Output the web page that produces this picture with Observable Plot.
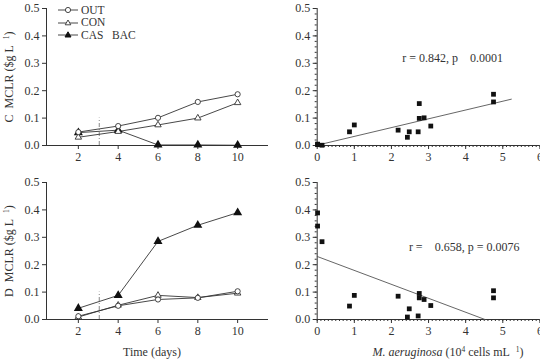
<!DOCTYPE html>
<html>
<head>
<meta charset="utf-8">
<script src="https://cdn.jsdelivr.net/npm/d3@7"></script>
<script src="https://cdn.jsdelivr.net/npm/@observablehq/plot@0.6"></script>
<style>
  body { margin: 0; background: #fff; }
  #fig { position: relative; width: 540px; height: 360px; overflow: hidden; font-family: "Liberation Serif", serif; font-weight: normal; color: #333; }
  .panel { position: absolute; }
  .panel svg { overflow: visible; }
  .ylab { position: absolute; white-space: nowrap; font-size: 12px; font-weight: normal; transform: translate(-50%, -50%) rotate(-90deg); }
  .titles { position: absolute; left: 0; top: 336px; }
  .legend { position: absolute; left: 57px; top: 4px; font-size: 11.5px; line-height: 12.4px; }
  .legend div { display: flex; align-items: center; height: 12.4px; line-height: 12.4px; }
  .legend svg { margin-right: 2px; }
  sup { font-size: 7.5px; vertical-align: 4px; line-height: 0; }
</style>
</head>
<body>
<div id="fig"></div>
<script>
// Sampling days and MCLR concentrations (µg/L) per treatment
const days = [2, 4, 6, 8, 10];
const seriesNames = ["OUT", "CON", "CAS   BAC"];
const cOut    = [0.049, 0.071, 0.101, 0.159, 0.187];
const cCon    = [0.030, 0.051, 0.075, 0.100, 0.156];
const cCasBac = [0.047, 0.056, 0.002, 0.002, 0.001];
const dOut    = [0.012, 0.050, 0.073, 0.079, 0.103];
const dCon    = [0.009, 0.052, 0.088, 0.080, 0.096];
const dCasBac = [0.041, 0.088, 0.285, 0.344, 0.390];

// Day the treatment started (dashed marker) and its height
const treatmentDay = 3.05;
const treatmentTop = 0.1;

// Cell density (10^4 cells/mL) vs. MCLR
const cells  = [0.01, 0.01, 0.13, 0.87, 1.00, 2.18, 2.43, 2.48, 2.72, 2.75, 2.75, 2.88, 3.06, 4.75, 4.75];
const cMclr  = [0.005, 0.003, 0.001, 0.050, 0.075, 0.056, 0.030, 0.050, 0.050, 0.153, 0.099, 0.101, 0.071, 0.187, 0.159];
const dMclr  = [0.389, 0.341, 0.284, 0.049, 0.088, 0.085, 0.009, 0.039, 0.013, 0.095, 0.079, 0.073, 0.051, 0.105, 0.079];

// Fitted regression segments
const cFit = [{x: 0.09, y: 0.004}, {x: 5.23, y: 0.169}];
const dFit = [{x: 0.0, y: 0.230}, {x: 4.52, y: 0.0}];

// Statistics annotations
const cStat = [{x: 2.29, y: 0.318, text: "r = 0.842, p    0.0001"}];
const dStat = [{x: 2.47, y: 0.264, text: "r =    0.658, p = 0.0076"}];

// Axis settings
const yTicks = [0, 0.1, 0.2, 0.3, 0.4, 0.5];
const yMinor = d3.range(0, 0.5001, 0.02);
const cellTicks = [0, 1, 2, 3, 4, 5, 6];
const cellMinor = d3.range(0, 6.0001, 0.1);
const timeDomain = [0.4, 11.55];
const cellDomain = [0, 6];

const fig = document.getElementById("fig");
const style = {fontFamily: "Liberation Serif", fontSize: "12px", color: "#333", background: "transparent"};
const fmt = d3.format(".1f");

function rows(vals) { return days.map((d, i) => ({x: d, y: vals[i]})); }

function timePanel(out, con, cas, top) {
  const o = rows(out), c = rows(con), b = rows(cas);
  const p = Plot.plot({
    width: 270, height: 165,
    marginLeft: 46, marginRight: 2, marginTop: 8, marginBottom: 20,
    style,
    x: {domain: timeDomain},
    y: {domain: [0, 0.5]},
    marks: [
      Plot.ruleY([0], {stroke: "#333"}),
      Plot.ruleX([timeDomain[0]], {y1: 0, y2: 0.5, stroke: "#333"}),
      Plot.axisX({ticks: days, tickSize: 4, tickPadding: 3, label: null, tickFormat: d => d, fontSize: 12}),
      Plot.axisY({ticks: yTicks, tickSize: 4, tickPadding: 3, label: null, tickFormat: fmt, fontSize: 12}),
      Plot.ruleX([treatmentDay], {y1: 0, y2: treatmentTop, stroke: "#888", strokeDasharray: "4,2,1,2"}),
      Plot.line(b, {x: "x", y: "y", stroke: "#333", strokeWidth: 0.9}),
      Plot.line(c, {x: "x", y: "y", stroke: "#333", strokeWidth: 0.9}),
      Plot.line(o, {x: "x", y: "y", stroke: "#333", strokeWidth: 0.9}),
      Plot.dot(b, {x: "x", y: "y", symbol: "triangle", r: 2.4, fill: "#111", stroke: "#111"}),
      Plot.dot(c, {x: "x", y: "y", symbol: "triangle", r: 2.4, fill: "#fff", stroke: "#333", strokeWidth: 0.9}),
      Plot.dot(o, {x: "x", y: "y", symbol: "circle", r: 2.6, fill: "#fff", stroke: "#333", strokeWidth: 0.9})
    ]
  });
  p.classList.add("panel");
  p.style.left = "0px";
  p.style.top = top + "px";
  fig.appendChild(p);
}

function cellPanel(mclr, fit, stat, top) {
  const pts = cells.map((x, i) => ({x, y: mclr[i]}));
  const p = Plot.plot({
    width: 270, height: 165,
    marginLeft: 46.7, marginRight: 0.6, marginTop: 8, marginBottom: 20,
    style,
    x: {domain: cellDomain},
    y: {domain: [0, 0.5]},
    marks: [
      Plot.ruleY([0], {stroke: "#333"}),
      Plot.ruleX([cellDomain[0]], {y1: 0, y2: 0.5, stroke: "#333"}),
      Plot.axisX({ticks: cellMinor, tickSize: 2, tickFormat: () => "", label: null}),
      Plot.axisX({ticks: cellTicks, tickSize: 4, tickPadding: 3, label: null, tickFormat: d => d, fontSize: 12}),
      Plot.axisY({ticks: yMinor, tickSize: 2, tickFormat: () => "", label: null}),
      Plot.axisY({ticks: yTicks, tickSize: 4, tickPadding: 3, label: null, tickFormat: fmt, fontSize: 12}),
      Plot.line(fit, {x: "x", y: "y", stroke: "#555", strokeWidth: 0.9}),
      Plot.dot(pts, {x: "x", y: "y", symbol: "square", r: 2.7, fill: "#111", stroke: "none"}),
      Plot.text(stat, {x: "x", y: "y", text: "text", textAnchor: "start", fill: "#333", fontSize: 12})
    ]
  });
  p.classList.add("panel");
  p.style.left = "270px";
  p.style.top = top + "px";
  fig.appendChild(p);
}

timePanel(cOut, cCon, cCasBac, 0);
cellPanel(cMclr, cFit, cStat, 0);
timePanel(dOut, dCon, dCasBac, 174);
cellPanel(dMclr, dFit, dStat, 174);

// Rotated y titles
function addYLabel(html, left, top) {
  const el = document.createElement("div");
  el.className = "ylab";
  el.innerHTML = html;
  el.style.left = left + "px";
  el.style.top = top + "px";
  fig.appendChild(el);
}
addYLabel("C&nbsp; MCLR ($g L&nbsp;&nbsp;<sup>1</sup>)", 9, 77);
addYLabel("D&nbsp; MCLR ($g L&nbsp;&nbsp;<sup>1</sup>)", 9, 251);

// x titles below the lower panels
const titles = document.createElementNS("http://www.w3.org/2000/svg", "svg");
titles.setAttribute("class", "titles");
titles.setAttribute("width", "540");
titles.setAttribute("height", "24");
titles.setAttribute("font-family", "Liberation Serif");
titles.setAttribute("font-size", "12");
titles.setAttribute("fill", "#333");
titles.innerHTML =
  '<text x="152" y="20" text-anchor="middle">Time (days)</text>' +
  '<text x="448" y="20" text-anchor="middle"><tspan font-style="italic">M. aeruginosa</tspan> (10<tspan font-size="7.5" dy="-4">4</tspan><tspan dy="4"> cells mL\u00a0\u00a0</tspan><tspan font-size="7.5" dy="-4">1</tspan><tspan dy="4">)</tspan></text>';
fig.appendChild(titles);

// Legend for the treatments
const legend = document.createElement("div");
legend.className = "legend";
const glyphs = [
  '<circle cx="11" cy="5" r="2.6" fill="#fff" stroke="#333" stroke-width="0.9"/>',
  '<path d="M11,2 L13.8,6.8 L8.2,6.8 Z" fill="#fff" stroke="#333" stroke-width="0.9"/>',
  '<path d="M11,1.8 L14,7 L8,7 Z" fill="#111" stroke="#111"/>'
];
seriesNames.forEach((name, i) => {
  const row = document.createElement("div");
  row.innerHTML = '<svg width="22" height="10"><line x1="1" x2="21" y1="5" y2="5" stroke="#333" stroke-width="0.9"/>' +
    glyphs[i] + '</svg><span>' + name.replace(/ /g, "&nbsp;") + '</span>';
  legend.appendChild(row);
});
fig.appendChild(legend);
</script>
</body>
</html>
